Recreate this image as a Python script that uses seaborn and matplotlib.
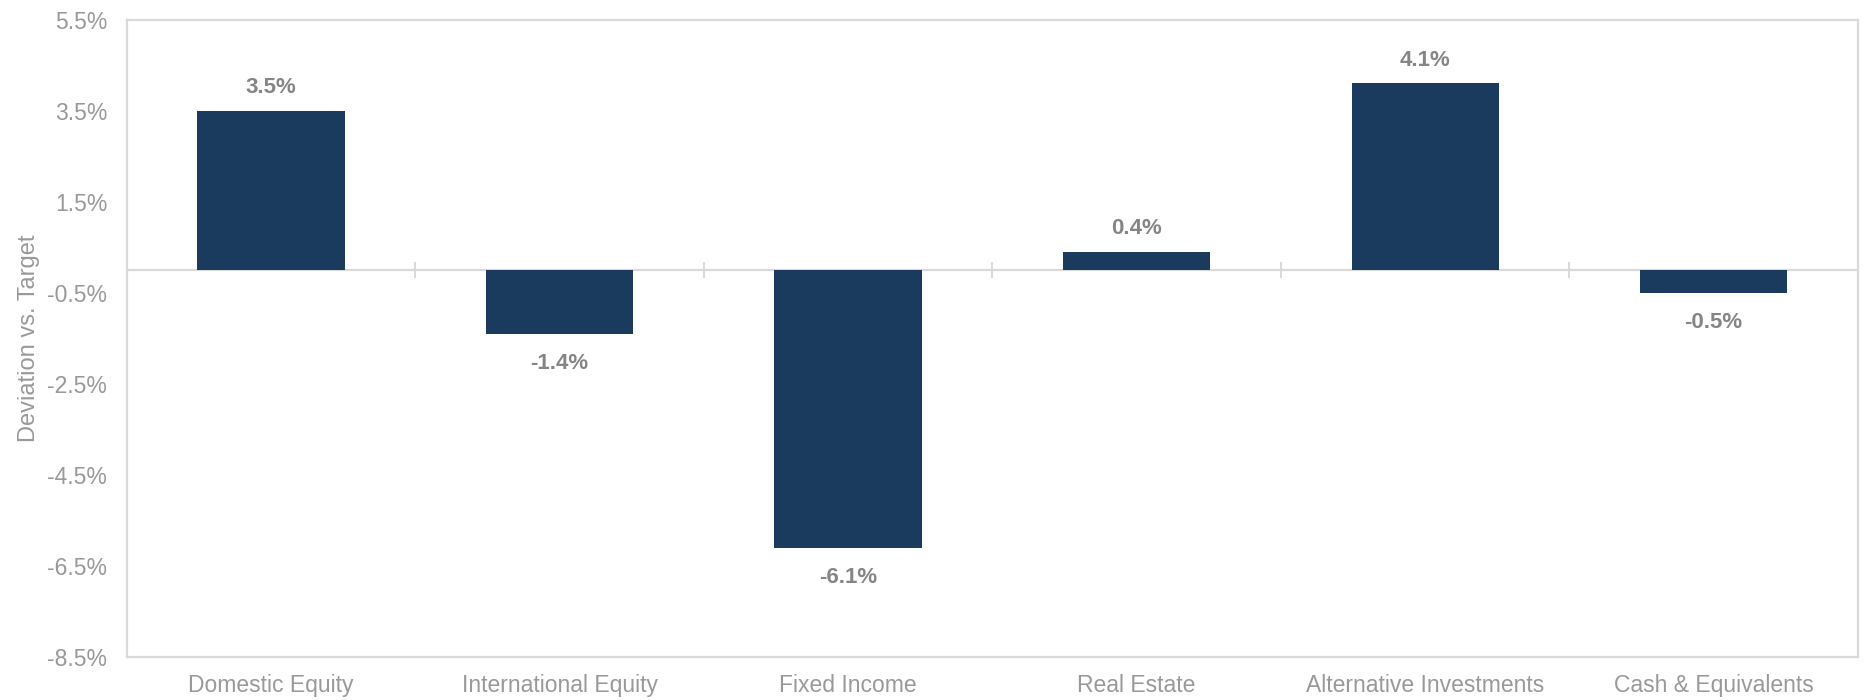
#!/usr/bin/env python3
"""
Allocation deviation vs. target by asset class.
"""

import numpy as np
import matplotlib
matplotlib.use("Agg")
import matplotlib.pyplot as plt
import seaborn as sns

# Data
categories = [
    "Domestic Equity", "International Equity", "Fixed Income",
    "Real Estate", "Alternative Investments", "Cash & Equivalents",
]
deviation = [3.5, -1.4, -6.1, 0.4, 4.1, -0.5]
y_ticks = [-8.5, -6.5, -4.5, -2.5, -0.5, 1.5, 3.5, 5.5]

BAR_COLOR = "#1a3a5e"
GRID_COLOR = "#d9d9d9"
TICK_COLOR = "#999999"
VALUE_COLOR = "#858585"

sns.set_style("white")
plt.rcParams["font.family"] = ["Liberation Sans", "DejaVu Sans"]

fig = plt.figure(figsize=(18.64, 7.0), dpi=100)
ax = fig.add_axes([0.068, 0.061, 0.9287, 0.911])

sns.barplot(x=categories, y=deviation, color=BAR_COLOR, saturation=1,
            width=0.51, linewidth=0, ax=ax)

# zero line with category separator ticks
ax.axhline(0, color=GRID_COLOR, lw=1.6, zorder=0.5)
ax.plot(np.arange(len(categories) - 1) + 0.5, [0] * (len(categories) - 1),
        ls="none", marker="|", ms=11.5, mew=1.4, color=GRID_COLOR, zorder=0.5)

# value labels
for i, v in enumerate(deviation):
    off = 9 if v >= 0 else -14
    ax.annotate(f"{v:.1f}%", (i, v), xytext=(0, off), textcoords="offset points",
                ha="center", va="bottom" if v >= 0 else "top",
                fontsize=16, fontweight="bold", color=VALUE_COLOR)

ax.set_ylim(-8.5, 5.5)
ax.set_xlim(-0.5, len(categories) - 0.5)
ax.set_yticks(y_ticks)
ax.set_yticklabels([f"{t:.1f}%" for t in y_ticks])
ax.tick_params(axis="y", length=0, pad=14, labelsize=16.5, labelcolor=TICK_COLOR)
ax.tick_params(axis="x", length=0, pad=12, labelsize=16.5, labelcolor=TICK_COLOR)
ax.set_ylabel("Deviation vs. Target", fontsize=17, color=TICK_COLOR, labelpad=5)
ax.set_xlabel("")

for side in ["left", "right", "top", "bottom"]:
    ax.spines[side].set_visible(True)
    ax.spines[side].set_color(GRID_COLOR)
    ax.spines[side].set_linewidth(1.6)

fig.savefig("out.png", dpi=100)
plt.close(fig)
